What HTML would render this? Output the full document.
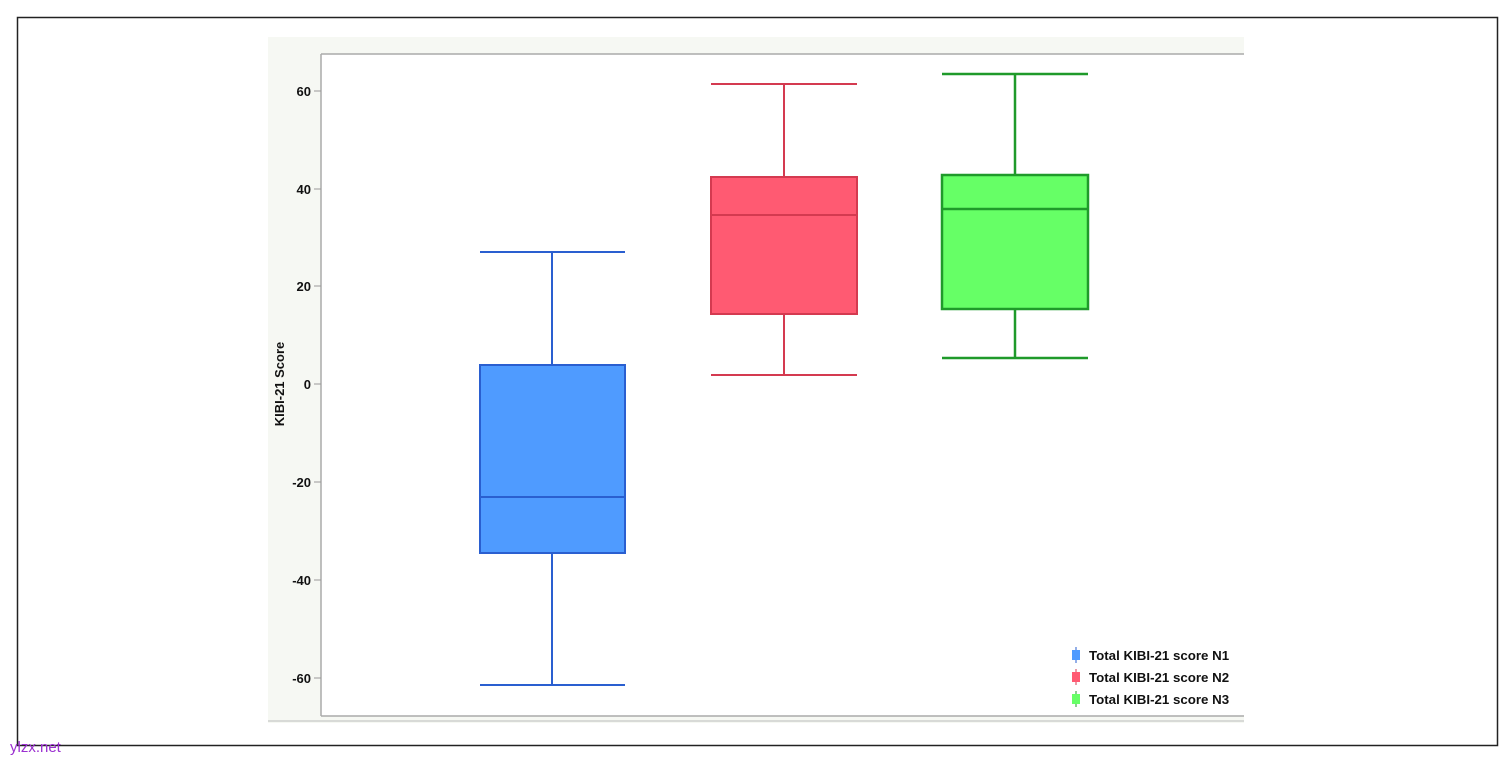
<!DOCTYPE html>
<html><head><style>
body{margin:0;background:#fff;}
</style></head><body>
<svg width="1512" height="762" xmlns="http://www.w3.org/2000/svg" font-family="Liberation Sans, Arial, sans-serif">
<rect x="0" y="0" width="1512" height="762" fill="#fff"/>
<rect x="17.5" y="17.5" width="1480" height="728" fill="none" stroke="#222" stroke-width="1.5"/>
<rect x="268" y="37" width="976" height="686" fill="#f6f8f3"/>
<rect x="321" y="54" width="923" height="662" fill="#fff"/>
<line x1="321" y1="54" x2="1244" y2="54" stroke="#aaa" stroke-width="1.5"/>
<line x1="321" y1="54" x2="321" y2="716" stroke="#aaa" stroke-width="1.5"/>
<line x1="321" y1="716" x2="1244" y2="716" stroke="#aaa" stroke-width="1.5"/>
<line x1="268" y1="721" x2="1244" y2="721" stroke="#bbb" stroke-width="1"/>
<g font-size="13" font-weight="bold" text-anchor="end" fill="#111">
<text x="311" y="96">60</text><text x="311" y="194">40</text><text x="311" y="291">20</text>
<text x="311" y="389">0</text><text x="311" y="487">-20</text><text x="311" y="585">-40</text><text x="311" y="683">-60</text>
</g>
<g stroke="#999" stroke-width="1">
<line x1="314" y1="91" x2="321" y2="91"/><line x1="314" y1="189" x2="321" y2="189"/><line x1="314" y1="286" x2="321" y2="286"/>
<line x1="314" y1="384" x2="321" y2="384"/><line x1="314" y1="482" x2="321" y2="482"/><line x1="314" y1="580" x2="321" y2="580"/><line x1="314" y1="678" x2="321" y2="678"/>
</g>
<text transform="translate(284,384) rotate(-90)" font-size="13" font-weight="bold" text-anchor="middle" fill="#111">KIBI-21 Score</text>
<g stroke="#2a5fd0" stroke-width="2">
<line x1="480" y1="252" x2="625" y2="252"/><line x1="552" y1="252" x2="552" y2="365"/>
<line x1="552" y1="553" x2="552" y2="685"/><line x1="480" y1="685" x2="625" y2="685"/>
<rect x="480" y="365" width="145" height="188" fill="#4f9bff"/>
<line x1="480" y1="497" x2="625" y2="497"/>
</g>
<g stroke="#d43a50" stroke-width="2">
<line x1="711" y1="84" x2="857" y2="84"/><line x1="784" y1="84" x2="784" y2="177"/>
<line x1="784" y1="314" x2="784" y2="375"/><line x1="711" y1="375" x2="857" y2="375"/>
<rect x="711" y="177" width="146" height="137" fill="#ff5a72"/>
<line x1="711" y1="215" x2="857" y2="215"/>
</g>
<g stroke="#1f9a2a" stroke-width="2.5">
<line x1="942" y1="74" x2="1088" y2="74"/><line x1="1015" y1="74" x2="1015" y2="175"/>
<line x1="1015" y1="309" x2="1015" y2="358"/><line x1="942" y1="358" x2="1088" y2="358"/>
<rect x="942" y="175" width="146" height="134" fill="#66ff66"/>
<line x1="942" y1="209" x2="1088" y2="209"/>
</g>
<g font-size="13.3" font-weight="bold" fill="#111">
<line x1="1076" y1="647" x2="1076" y2="663" stroke="#2a5fd0"/><rect x="1072" y="650" width="8" height="10" fill="#4f9bff"/>
<text x="1089" y="660">Total KIBI-21 score N1</text>
<line x1="1076" y1="669" x2="1076" y2="685" stroke="#d43a50"/><rect x="1072" y="672" width="8" height="10" fill="#ff5a72"/>
<text x="1089" y="682">Total KIBI-21 score N2</text>
<line x1="1076" y1="691" x2="1076" y2="707" stroke="#1f9a2a"/><rect x="1072" y="694" width="8" height="10" fill="#66ff66"/>
<text x="1089" y="704">Total KIBI-21 score N3</text>
</g>
<text x="10" y="752" font-size="15" fill="#9b30d0">ylzx.net</text>
</svg>
</body></html>
